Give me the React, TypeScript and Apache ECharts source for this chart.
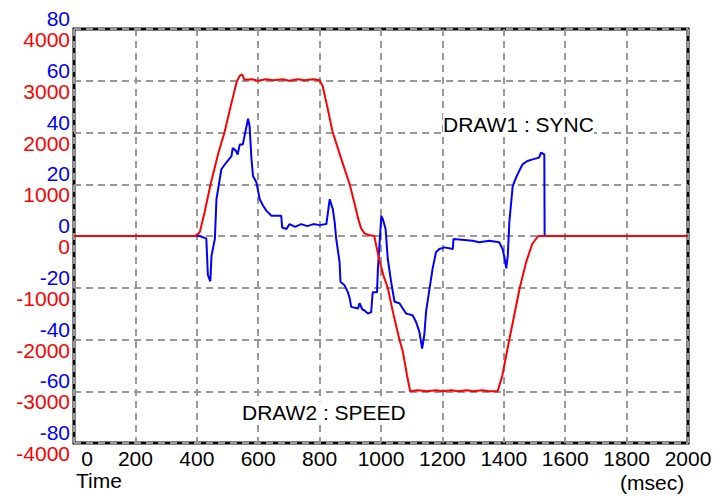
import React, { useEffect, useRef } from "react";
import * as echarts from "echarts";

// Time axis (msec)
const timeTicks = [0, 200, 400, 600, 800, 1000, 1200, 1400, 1600, 1800, 2000];

// DRAW2 : SPEED (red, left scale -4000..4000)
const speedTime = [0, 100, 200, 300, 393, 402, 410, 425, 445, 470, 491, 510, 530, 540, 548, 555, 580, 600, 625, 650, 680, 700, 730, 750, 780, 800, 810, 825, 842, 870, 898, 915, 925, 935, 946, 960, 978, 985, 995, 1010, 1022, 1040, 1060, 1071, 1085, 1095, 1120, 1150, 1180, 1200, 1230, 1250, 1280, 1300, 1330, 1350, 1380, 1395, 1418, 1452, 1473, 1493, 1512, 1530, 1560, 1600, 1650, 1700, 1800, 1900, 2000];
const speedValue = [0, 0, 0, 0, 0, 20, 80, 450, 1000, 1600, 2020, 2500, 2980, 3100, 3120, 3020, 3030, 3000, 3030, 3010, 3030, 3000, 3030, 3010, 3030, 3010, 2900, 2500, 2020, 1500, 1000, 600, 350, 150, 50, 20, 0, -200, -480, -800, -1000, -1500, -2000, -2230, -2700, -3000, -2980, -3000, -2980, -3000, -2980, -3000, -2980, -3000, -2980, -3000, -3000, -2700, -2000, -1000, -500, -150, 0, 0, 0, 0, 0, 0, 0, 0, 0];

// DRAW1 : SYNC (blue, left scale -80..80)
const syncTime = [0, 400, 410, 431, 436, 444, 448, 459, 464, 480, 496, 513, 517, 527, 533, 540, 550, 556, 567, 572, 578, 583, 594, 605, 616, 627, 643, 675, 678, 692, 702, 720, 740, 760, 780, 800, 822, 833, 843, 849, 854, 865, 868, 881, 892, 898, 903, 925, 930, 940, 946, 957, 968, 973, 987, 990, 1001, 1006, 1015, 1022, 1033, 1044, 1060, 1071, 1082, 1103, 1114, 1125, 1134, 1141, 1147, 1158, 1168, 1179, 1190, 1207, 1234, 1236, 1298, 1320, 1353, 1385, 1396, 1402, 1408, 1413, 1418, 1423, 1429, 1440, 1450, 1461, 1477, 1494, 1515, 1521, 1532, 1533, 1600, 2000];
const syncValue = [0, 0, 0, -1, -15, -17.5, -7.6, -1, 14.2, 25.8, 28.4, 30.9, 34, 33, 31.5, 35.4, 35.4, 39, 45.3, 42.4, 30, 23.2, 20.8, 14.2, 11.7, 9.7, 7.8, 7.8, 3.3, 2.7, 4.6, 3.5, 4.6, 3.8, 4.6, 4.2, 4.6, 14.2, 10.4, 5.4, -1, -10, -17.7, -19, -21.7, -24, -27.4, -28, -26, -28.5, -28.7, -30, -29.4, -21.7, -21.7, -12.7, 7.8, 6.5, 2.7, -8.8, -17.7, -25.4, -26, -28, -30, -30.6, -33.2, -37, -43.5, -38.3, -29, -20.4, -12.7, -6.3, -5, -4.4, -5, -1.2, -1.8, -2.4, -1.8, -2.4, -5, -8.2, -12.5, -7.6, 5.3, 11.7, 19.3, 22.6, 25.1, 27.7, 29, 29.6, 30.3, 32.2, 31.5, 0, 0, 0];

const FONT = "'Liberation Sans', Arial, sans-serif";

export default function App() {
  const ref = useRef<HTMLDivElement>(null);
  useEffect(() => {
    if (!ref.current) return;
    const chart = echarts.init(ref.current, null, { renderer: "svg" });
    const grid = { left: 74, right: 29, top: 29, bottom: 54 };
    const gridLine = { color: "#999999", width: 2, type: [7, 5] };
    chart.setOption({
      animation: false,
      backgroundColor: "#ffffff",
      grid: { ...grid, show: true, borderColor: "#000000", borderWidth: 3, backgroundColor: "transparent" },
      xAxis: {
        type: "value",
        min: timeTicks[0],
        max: timeTicks[timeTicks.length - 1],
        interval: 200,
        axisLine: { show: false },
        axisTick: { show: false },
        splitLine: { show: true, lineStyle: gridLine },
        axisLabel: {
          margin: 5,
          color: "#000000",
          fontFamily: FONT,
          fontSize: 21,
          formatter: (v: number) => (v === 0 ? "{z|0}" : String(v)),
          rich: { z: { padding: [0, 0, 0, 26], fontFamily: FONT, fontSize: 21, color: "#000000" } },
        },
      },
      yAxis: [
        {
          type: "value",
          min: -4000,
          max: 4000,
          interval: 1000,
          position: "left",
          axisLine: { show: false },
          axisTick: { show: false },
          splitLine: { show: true, lineStyle: gridLine },
          axisLabel: { margin: 4, color: "#ff0000", fontFamily: FONT, fontSize: 21, verticalAlign: "top", formatter: (v: number) => String(v) },
        },
        {
          type: "value",
          min: -80,
          max: 80,
          interval: 20,
          position: "left",
          axisLine: { show: false },
          axisTick: { show: false },
          splitLine: { show: false },
          axisLabel: { margin: 4, color: "#0000ff", fontFamily: FONT, fontSize: 21, verticalAlign: "bottom", formatter: (v: number) => String(v) },
        },
      ],
      series: [
        {
          type: "line",
          yAxisIndex: 1,
          data: syncTime.map((t, i) => [t, syncValue[i]]),
          showSymbol: false,
          lineStyle: { color: "#0000ff", width: 2 },
          itemStyle: { color: "#0000ff" },
        },
        {
          type: "line",
          yAxisIndex: 0,
          data: speedTime.map((t, i) => [t, speedValue[i]]),
          showSymbol: false,
          lineStyle: { color: "#ff0000", width: 2 },
          itemStyle: { color: "#ff0000" },
        },
      ],
      graphic: [
        {
          type: "text",
          x: 443,
          y: 124,
          z: 100,
          style: { text: "DRAW1 : SYNC", font: `21px ${FONT}`, fill: "#000000", verticalAlign: "middle", backgroundColor: "#ffffff" },
        },
        {
          type: "text",
          x: 242,
          y: 412,
          z: 100,
          style: { text: "DRAW2 : SPEED", font: `21px ${FONT}`, fill: "#000000", verticalAlign: "middle", backgroundColor: "#ffffff" },
        },
        {
          type: "text",
          x: 76,
          y: 480,
          style: { text: "Time", font: `21px ${FONT}`, fill: "#000000", verticalAlign: "middle" },
        },
        {
          type: "text",
          x: 620,
          y: 482,
          style: { text: "(msec)", font: `21px ${FONT}`, fill: "#000000", verticalAlign: "middle" },
        },
      ],
    });
    return () => chart.dispose();
  }, []);
  return <div ref={ref} style={{ position: "fixed", left: 0, top: 0, width: 717, height: 497 }} />;
}
